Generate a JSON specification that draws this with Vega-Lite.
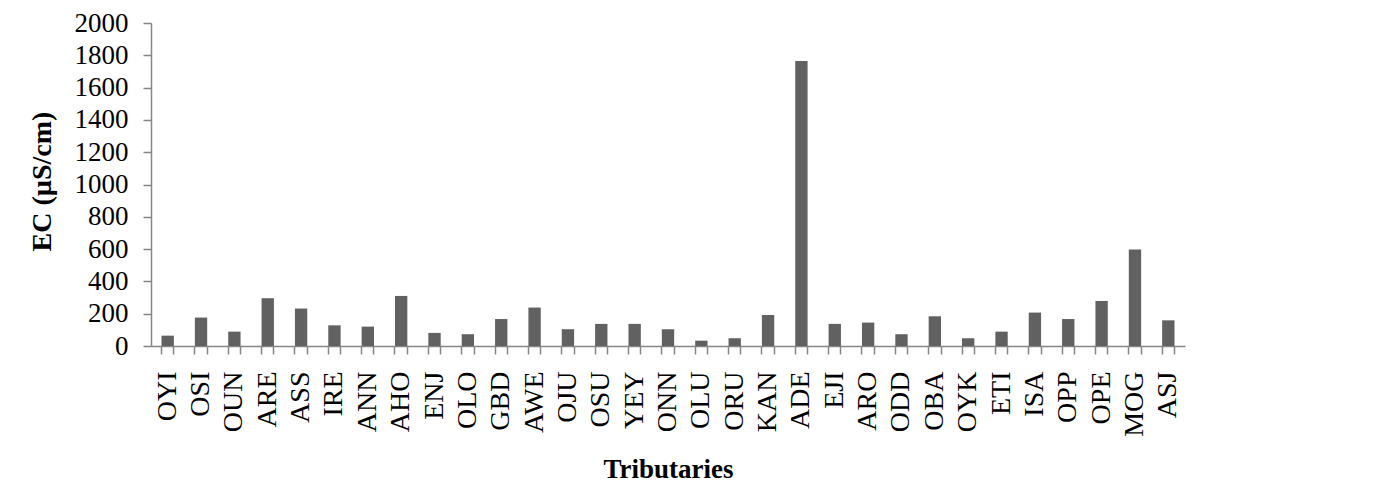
{
  "$schema": "https://vega.github.io/schema/vega-lite/v6.json",
  "autosize": {"type": "none"},
  "padding": {"left": 151, "top": 23, "right": 206, "bottom": 155},
  "width": 1034,
  "height": 323,
  "background": "white",
  "config": {
    "view": {"stroke": null},
    "font": "Liberation Serif"
  },
  "data": {
    "values": [
      {"site": "OYI", "ec": 64},
      {"site": "OSI", "ec": 176},
      {"site": "OUN", "ec": 89},
      {"site": "ARE", "ec": 296},
      {"site": "ASS", "ec": 232},
      {"site": "IRE", "ec": 128},
      {"site": "ANN", "ec": 120},
      {"site": "AHO", "ec": 310},
      {"site": "ENJ", "ec": 81},
      {"site": "OLO", "ec": 73},
      {"site": "GBD", "ec": 167},
      {"site": "AWE", "ec": 238},
      {"site": "OJU", "ec": 104},
      {"site": "OSU", "ec": 137},
      {"site": "YEY", "ec": 137},
      {"site": "ONN", "ec": 104},
      {"site": "OLU", "ec": 33},
      {"site": "ORU", "ec": 48},
      {"site": "KAN", "ec": 192},
      {"site": "ADE", "ec": 1764},
      {"site": "EJI", "ec": 137},
      {"site": "ARO", "ec": 145},
      {"site": "ODD", "ec": 73},
      {"site": "OBA", "ec": 184},
      {"site": "OYK", "ec": 48},
      {"site": "ETI", "ec": 89},
      {"site": "ISA", "ec": 207},
      {"site": "OPP", "ec": 167},
      {"site": "OPE", "ec": 279},
      {"site": "MOG", "ec": 598},
      {"site": "ASJ", "ec": 159}
    ]
  },
  "encoding": {
    "y": {
      "field": "ec",
      "type": "quantitative",
      "scale": {"domain": [0, 2000], "nice": false},
      "axis": {
        "title": "EC (µS/cm)",
        "titleFont": "Liberation Serif",
        "titleFontSize": 28,
        "titleFontWeight": "bold",
        "titleColor": "black",
        "titleX": -101,
        "titleY": 158,
        "titleBaseline": "alphabetic",
        "titleAlign": "center",
        "titleAngle": -90,
        "values": [0, 200, 400, 600, 800, 1000, 1200, 1400, 1600, 1800, 2000],
        "format": "d",
        "grid": false,
        "labelFont": "Liberation Serif",
        "labelFontSize": 27,
        "labelColor": "black",
        "labelPadding": 15,
        "tickSize": 8,
        "tickColor": "#868686",
        "domainColor": "#868686",
        "tickWidth": 1.5,
        "domainWidth": 1.5
      }
    }
  },
  "layer": [
    {
      "mark": {"type": "bar", "color": "#616161"},
      "encoding": {
        "x": {
          "field": "site",
          "type": "nominal",
          "sort": null,
          "scale": {"paddingInner": 0.63, "paddingOuter": 0.315},
          "axis": {
            "orient": "bottom",
            "title": "Tributaries",
            "titleFont": "Liberation Serif",
            "titleFontSize": 27,
            "titleFontWeight": "bold",
            "titleColor": "black",
            "titleY": 131,
            "titleBaseline": "alphabetic",
            "labelAngle": -90,
            "labelFont": "Liberation Serif",
            "labelFontSize": 28,
            "labelColor": "black",
            "labelPadding": 17,
            "bandPosition": 0,
            "tickSize": 8,
            "tickColor": "#868686",
            "domainColor": "#868686",
            "tickWidth": 1.5,
            "domainWidth": 1.5
          }
        }
      }
    },
    {
      "mark": {"type": "bar", "opacity": 0},
      "encoding": {
        "x": {
          "field": "site",
          "type": "nominal",
          "sort": null,
          "axis": {
            "orient": "bottom",
            "title": null,
            "labels": false,
            "domain": false,
            "bandPosition": 1,
            "tickSize": 8,
            "tickColor": "#868686",
            "tickWidth": 1.5
          }
        }
      }
    }
  ],
  "resolve": {"axis": {"x": "independent"}}
}
